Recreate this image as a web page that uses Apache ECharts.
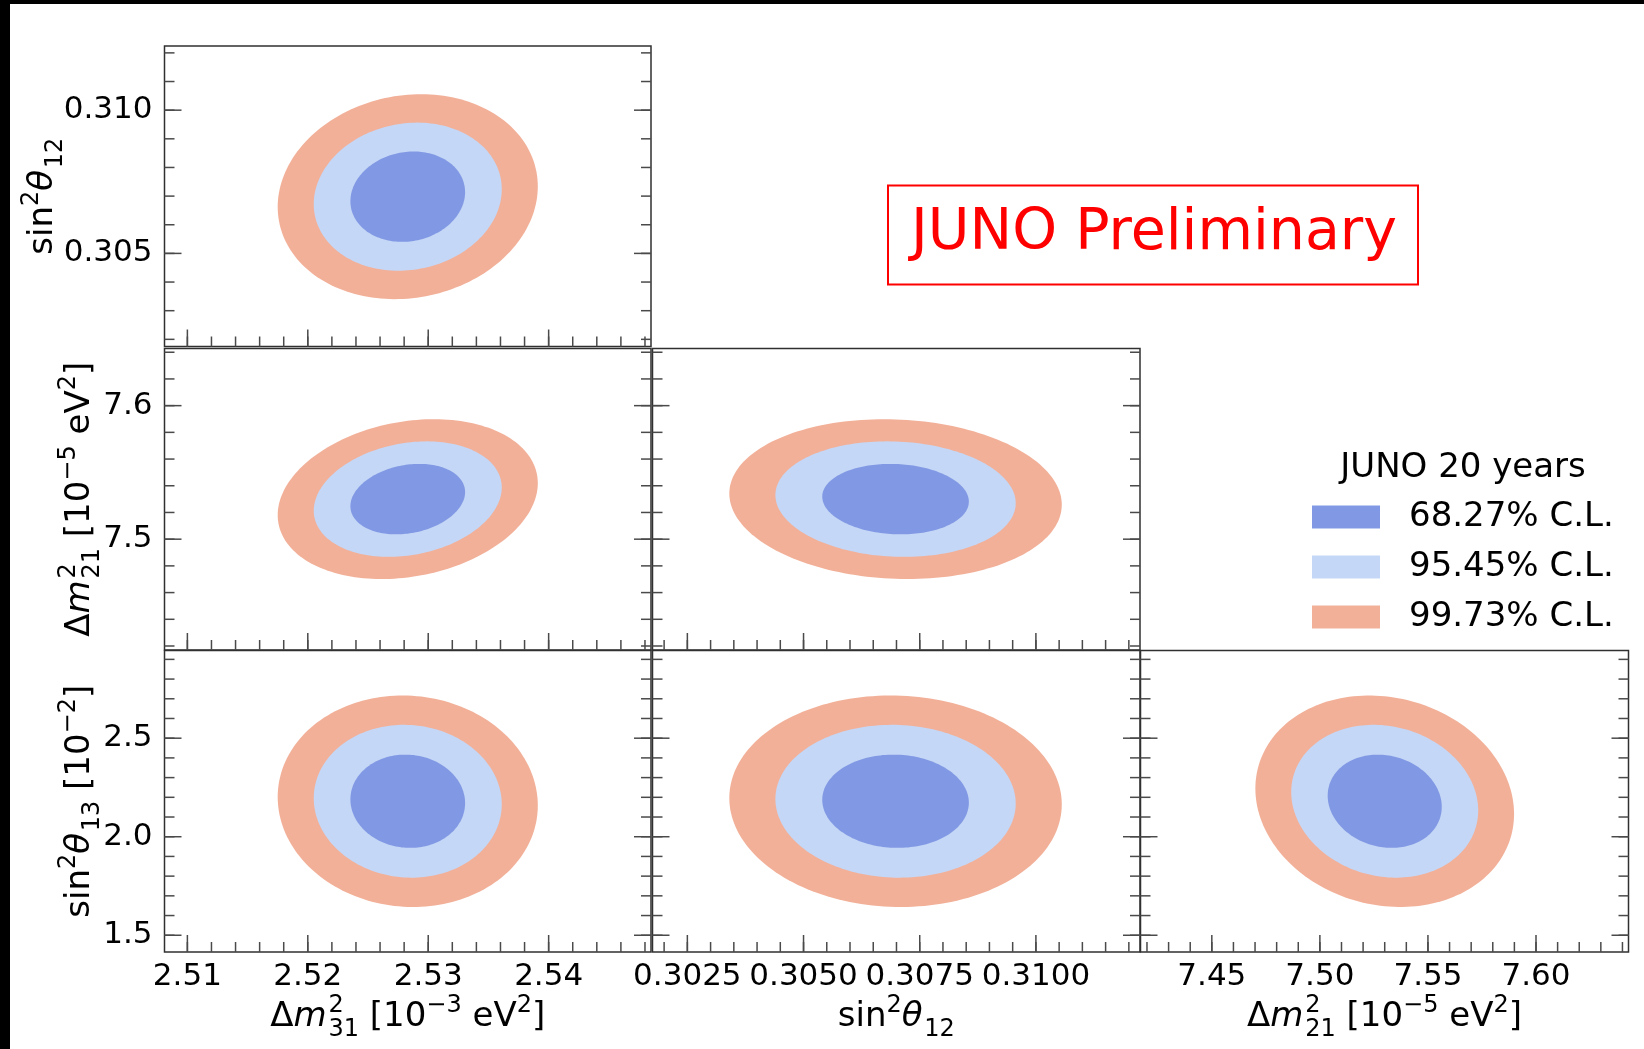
<!DOCTYPE html>
<html>
<head>
<meta charset="utf-8">
<script src="https://cdn.jsdelivr.net/npm/echarts@6/dist/echarts.min.js"></script>
<style>
  html, body { margin: 0; padding: 0; background: #fff; }
  #chart { width: 1644px; height: 1049px; }
</style>
</head>
<body>
<div id="chart"></div>
<script>
// Parameters: 0 = Δm²31 [1e-3 eV²], 1 = sin²θ12, 2 = Δm²21 [1e-5 eV²], 3 = sin²θ13 [1e-2]
const bestFit = [2.5283, 0.30698, 7.530, 2.180];
const sigma = [0.00314, 0.00104, 0.0174, 0.156];
const axisRange = [[2.5081, 2.5485], [0.30175, 0.31224], [7.4170, 7.6428], [1.415, 2.945]];
// correlation coefficient of each parameter pair
const correlation = { '0-1': 0.10, '0-2': 0.20, '1-2': -0.07, '0-3': -0.04, '1-3': -0.03, '2-3': -0.12 };

// confidence levels (2 d.o.f.)
const clLevels = ['68.27% C.L.', '95.45% C.L.', '99.73% C.L.'];
const deltaChi2 = [2.30, 6.18, 11.83];
const clColors = ['#8199E4', '#C5D7F6', '#F2B099'];

// bottom-row x axes (Δm²31, sin²θ12, Δm²21)
const xTickLabels = [
  ['2.51', '2.52', '2.53', '2.54'],
  ['0.3025', '0.3050', '0.3075', '0.3100'],
  ['7.45', '7.50', '7.55', '7.60']
];
const xMinorStep = [0.002, 0.0005, 0.01];
// left-column y axes (sin²θ12, Δm²21, sin²θ13)
const yTickLabels = [
  ['0.305', '0.310'],
  ['7.5', '7.6'],
  ['1.5', '2.0', '2.5']
];
const yMinorStep = [0.001, 0.02, 0.1];

const FONT = '"DejaVu Sans"';
const colLeft = [164.5, 652.5, 1140.5], colWidth = [486.5, 487.5, 488];
const rowTop = [46, 348.5, 650.5], rowHeight = [300.5, 301.5, 301.5];

// lower-triangle panels: column c -> x parameter c, row r -> y parameter r+1
const panels = [];
for (let r = 0; r < 3; r++) for (let c = 0; c <= r; c++) panels.push({ c, r });

function ellipse(ix, iy, k) {
  const key = Math.min(ix, iy) + '-' + Math.max(ix, iy);
  const rho = correlation[key];
  const sx = sigma[ix] * Math.sqrt(k), sy = sigma[iy] * Math.sqrt(k);
  const pts = [];
  for (let a = 0; a < 360; a += 2) {
    const t = a * Math.PI / 180;
    pts.push([bestFit[ix] + sx * Math.cos(t),
              bestFit[iy] + sy * (rho * Math.cos(t) + Math.sqrt(1 - rho * rho) * Math.sin(t))]);
  }
  return pts;
}

function minorValues(range, step) {
  const out = [];
  for (let n = Math.ceil(range[0] / step - 1e-9); n <= Math.floor(range[1] / step + 1e-9); n++) out.push(+(n * step).toFixed(6));
  return out;
}

function labelFor(list, v) {
  const hit = list.find(s => Math.abs(Number(s) - v) < 1e-9);
  return hit || '';
}

const tickLabelStyle = { fontSize: 31, fontFamily: 'DejaVu Sans', color: '#000' };
const grid = [], xAxis = [], yAxis = [], series = [];

panels.forEach((p, i) => {
  const xr = axisRange[p.c], yr = axisRange[p.r + 1];
  grid.push({ left: colLeft[p.c], top: rowTop[p.r], width: colWidth[p.c], height: rowHeight[p.r],
    show: true, borderColor: '#303030', borderWidth: 1.5, backgroundColor: 'rgba(0,0,0,0)' });
  const xl = xTickLabels[p.c], yl = yTickLabels[p.r];
  xAxis.push({ type: 'value', gridIndex: i, min: xr[0], max: xr[1],
    axisLine: { show: false }, axisTick: { show: false }, splitLine: { show: false },
    axisLabel: p.r === 2 ? Object.assign({ margin: 9, customValues: xl.map(Number), formatter: v => labelFor(xl, v) }, tickLabelStyle) : { show: false } });
  yAxis.push({ type: 'value', gridIndex: i, min: yr[0], max: yr[1],
    axisLine: { show: false }, axisTick: { show: false }, splitLine: { show: false },
    axisLabel: p.c === 0 ? Object.assign({ margin: 12, customValues: yl.map(Number), formatter: v => labelFor(yl, v) }, tickLabelStyle) : { show: false } });

  // confidence regions, widest first
  [2, 1, 0].forEach(l => {
    const pts = ellipse(p.c, p.r + 1, deltaChi2[l]);
    series.push({ type: 'custom', name: clLevels[l], xAxisIndex: i, yAxisIndex: i, silent: true, z: 2,
      itemStyle: { color: clColors[l] },
      data: [[bestFit[p.c], bestFit[p.r + 1]]],
      renderItem: (params, api) => ({ type: 'polygon', shape: { points: pts.map(q => api.coord(q)) }, style: { fill: clColors[l] } }) });
  });

  // inward ticks: bottom, left and right edges
  const tickData = [];
  xl.forEach(s => tickData.push([0, Number(s), 1]));
  minorValues(xr, xMinorStep[p.c]).forEach(v => tickData.push([0, v, 0]));
  yl.forEach(s => tickData.push([1, Number(s), 1]));
  minorValues(yr, yMinorStep[p.r]).forEach(v => tickData.push([1, v, 0]));
  series.push({ type: 'custom', xAxisIndex: i, yAxisIndex: i, silent: true, z: 5, data: tickData,
    renderItem: (params, api) => {
      const kind = api.value(0), v = api.value(1), len = api.value(2) ? 17 : 10;
      const style = { stroke: '#4a4a4a', lineWidth: 1.5 };
      if (kind === 0) {
        const q = api.coord([v, yr[0]]);
        return { type: 'line', shape: { x1: q[0], y1: q[1], x2: q[0], y2: q[1] - len }, style };
      }
      const a = api.coord([xr[0], v]), b = api.coord([xr[1], v]);
      return { type: 'group', children: [
        { type: 'line', shape: { x1: a[0], y1: a[1], x2: a[0] + len, y2: a[1] }, style },
        { type: 'line', shape: { x1: b[0], y1: b[1], x2: b[0] - len, y2: b[1] }, style }
      ] };
    } });
});

// axis titles with stacked super/subscripts
const measureCtx = document.createElement('canvas').getContext('2d');
function textWidth(t, size, italic) {
  measureCtx.font = (italic ? 'italic ' : '') + size + 'px ' + FONT;
  return measureCtx.measureText(t).width;
}
function mathLabel(tokens, base) {
  const small = Math.round(base * 0.7), children = [];
  let x = 0;
  const put = (t, size, italic, baseline) => children.push({ type: 'text', x, y: baseline - 0.346 * size,
    style: { text: t, font: (italic ? 'italic ' : '') + size + 'px ' + FONT, fill: '#000', align: 'left', verticalAlign: 'middle' } });
  tokens.forEach(tok => {
    put(tok.t, base, tok.it, 0);
    x += textWidth(tok.t, base, tok.it);
    if (tok.sup || tok.sub) {
      if (tok.it) x += base * 0.05;
      let w = 0;
      if (tok.sup) { put(tok.sup, small, false, -0.44 * base); w = Math.max(w, textWidth(tok.sup, small)); }
      if (tok.sub) { put(tok.sub, small, false, 0.28 * base); w = Math.max(w, textWidth(tok.sub, small)); }
      x += w;
    }
  });
  children.forEach(ch => { ch.x -= x / 2; });
  return children;
}
const titleDm31 = [{ t: 'Δ' }, { t: 'm', it: true, sup: '2', sub: '31' }, { t: ' [10', sup: '−3' }, { t: ' eV', sup: '2' }, { t: ']' }];
const titleS12 = [{ t: 'sin', sup: '2' }, { t: 'θ', it: true, sub: '12' }];
const titleDm21 = [{ t: 'Δ' }, { t: 'm', it: true, sup: '2', sub: '21' }, { t: ' [10', sup: '−5' }, { t: ' eV', sup: '2' }, { t: ']' }];
const titleS13 = [{ t: 'sin', sup: '2' }, { t: 'θ', it: true, sub: '13' }, { t: ' [10', sup: '−2' }, { t: ']' }];

const TITLE_SIZE = 34;
const graphic = [
  { type: 'rect', shape: { x: 0, y: 0, width: 1644, height: 4 }, style: { fill: '#000' }, silent: true },
  { type: 'rect', shape: { x: 0, y: 0, width: 10, height: 1049 }, style: { fill: '#000' }, silent: true },
  { type: 'group', x: colLeft[0] + colWidth[0] / 2, y: 1029, children: mathLabel(titleDm31, TITLE_SIZE) },
  { type: 'group', x: colLeft[1] + colWidth[1] / 2, y: 1029, children: mathLabel(titleS12, TITLE_SIZE) },
  { type: 'group', x: colLeft[2] + colWidth[2] / 2, y: 1029, children: mathLabel(titleDm21, TITLE_SIZE) },
  { type: 'group', x: 55, y: rowTop[0] + rowHeight[0] / 2, rotation: Math.PI / 2, children: mathLabel(titleS12, TITLE_SIZE) },
  { type: 'group', x: 92, y: rowTop[1] + rowHeight[1] / 2, rotation: Math.PI / 2, children: mathLabel(titleDm21, TITLE_SIZE) },
  { type: 'group', x: 92, y: rowTop[2] + rowHeight[2] / 2, rotation: Math.PI / 2, children: mathLabel(titleS13, TITLE_SIZE) },
  { type: 'rect', shape: { x: 888, y: 185.5, width: 530, height: 99 }, style: { fill: '#fff', stroke: '#ff0000', lineWidth: 2 } },
  { type: 'text', x: 1154, y: 234, style: { text: 'JUNO Preliminary', font: '57px ' + FONT, fill: '#ff0000', align: 'center', verticalAlign: 'middle' } },
  { type: 'text', x: 1463, y: 468, style: { text: 'JUNO 20 years', font: '34px ' + FONT, fill: '#000', align: 'center', verticalAlign: 'middle' } }
];

const chart = echarts.init(document.getElementById('chart'), null, { renderer: 'canvas' });
chart.setOption({
  animation: false,
  backgroundColor: '#fff',
  grid, xAxis, yAxis, series, graphic,
  legend: {
    data: clLevels, orient: 'vertical', left: 1307, top: 495, icon: 'rect',
    itemWidth: 68, itemHeight: 23, itemGap: 16, selectedMode: false,
    textStyle: { fontSize: 34, fontFamily: 'DejaVu Sans', color: '#000', padding: [0, 0, 0, 24] }
  }
});
</script>
</body>
</html>
